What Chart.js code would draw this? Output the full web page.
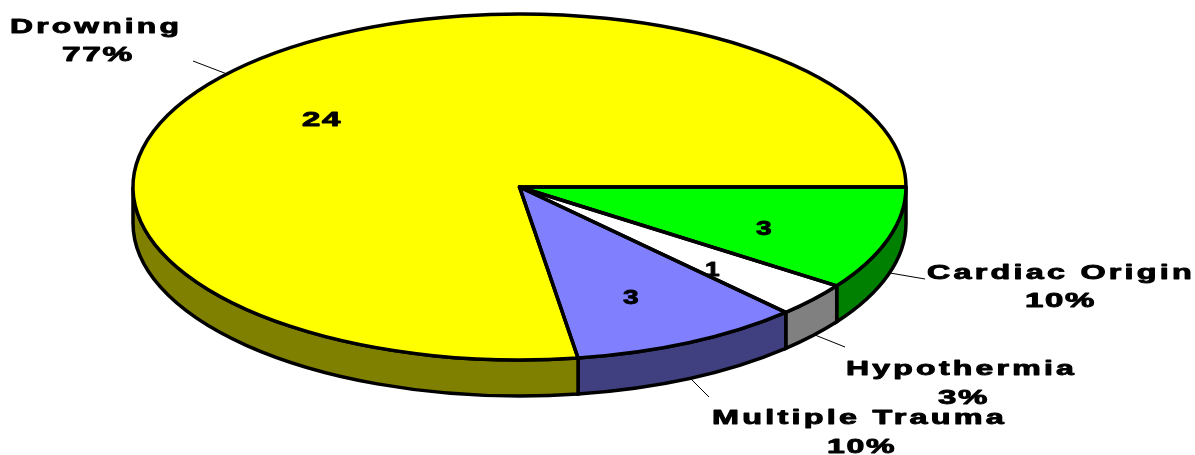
<!DOCTYPE html>
<html><head><meta charset="utf-8">
<style>html,body{margin:0;padding:0;background:#fff}canvas{display:block}</style>
<script src="https://cdn.jsdelivr.net/npm/chart.js@4"></script></head>
<body><div style="width:1195px;height:455px;position:relative"><canvas id="c"></canvas></div>
<script>
const categories = ["Cardiac Origin", "Hypothermia", "Multiple Trauma", "Drowning"];
const counts = [3, 1, 3, 24];
const percents = ["10%", "3%", "10%", "77%"];
const topColors = ["#00ff00", "#ffffff", "#8080ff", "#ffff00"];
const sideColors = ["#008000", "#808080", "#404080", "#808000"];

const CX = 519.5, CY = 187, RX = 386.5, RY = 173, DEPTH = 36;
const FONT = 'bold 20px "Liberation Sans"';
// layout only: [left, right, middle y] of each text
const nameBox = [[927, 1195, 273], [846, 1077, 369], [712, 1007, 418], [10, 182, 27]];
const pctBox = [[1025, 1096, 301], [938, 989, 398], [827, 896, 447], [62, 134, 55]];
const countBox = [[756, 773, 229], [705, 721, 270], [623, 640, 298], [302, 342, 120]];
const leaders = [[[890, 273], [925, 279]], [[815, 335], [845, 347]], [[690, 378], [709, 397]], [[193, 61], [227, 74]]];

function fitText(ctx, t, box) {
  ctx.letterSpacing = t.length > 3 ? '2px' : '1px';
  const w = ctx.measureText(t).width;
  ctx.save();
  ctx.translate((box[0] + box[1]) / 2, box[2]);
  ctx.scale((box[1] - box[0]) / w, 1);
  ctx.lineWidth = 0.9; ctx.strokeStyle = '#000';
  ctx.fillText(t, 0, 0); ctx.strokeText(t, 0, 0);
  ctx.restore();
}
const pie3d = {
  id: 'pie3d',
  beforeDatasetDraw(chart) {
    const ctx = chart.ctx, arcs = chart.getDatasetMeta(0).data;
    ctx.save();
    // side wall: only the front half of the rim is visible
    ctx.lineWidth = 3.5; ctx.strokeStyle = '#000';
    arcs.forEach((a, i) => {
      const s = Math.max(a.startAngle, 0), e = Math.min(a.endAngle, Math.PI);
      if (e <= s) return;
      ctx.beginPath();
      ctx.ellipse(CX, CY, RX, RY, 0, s, e);
      ctx.ellipse(CX, CY + DEPTH, RX, RY, 0, e, s, true);
      ctx.closePath();
      ctx.fillStyle = sideColors[i];
      ctx.fill(); ctx.stroke();
    });
    ctx.restore();
    // squash the library's own circular arcs into the tilted ellipse
    const a0 = arcs[0], r = a0.outerRadius;
    ctx.save();
    ctx.translate(CX, CY);
    ctx.scale(RX / r, RY / r);
    ctx.translate(-a0.x, -a0.y);
  },
  afterDatasetDraw(chart) {
    const ctx = chart.ctx, arcs = chart.getDatasetMeta(0).data;
    ctx.restore();
    ctx.save();
    ctx.lineWidth = 3.5; ctx.strokeStyle = '#000'; ctx.lineJoin = 'round';
    arcs.forEach(a => {
      ctx.beginPath();
      ctx.moveTo(CX, CY);
      ctx.ellipse(CX, CY, RX, RY, 0, a.startAngle, a.endAngle);
      ctx.closePath();
      ctx.stroke();
    });
    ctx.lineWidth = 1;
    leaders.forEach(l => {
      ctx.beginPath(); ctx.moveTo(l[0][0], l[0][1]); ctx.lineTo(l[1][0], l[1][1]); ctx.stroke();
    });
    ctx.fillStyle = '#000'; ctx.font = FONT;
    ctx.textAlign = 'center'; ctx.textBaseline = 'middle';
    categories.forEach((c, i) => {
      fitText(ctx, c, nameBox[i]);
      fitText(ctx, percents[i], pctBox[i]);
      fitText(ctx, String(counts[i]), countBox[i]);
    });
    ctx.restore();
  }
};
new Chart(document.getElementById('c'), {
  type: 'pie',
  data: { labels: categories, datasets: [{ data: counts, backgroundColor: topColors, borderWidth: 0 }] },
  options: {
    responsive: true, maintainAspectRatio: false, animation: false,
    rotation: 90,
    plugins: { legend: { display: false }, tooltip: { enabled: false } }
  },
  plugins: [pie3d]
});
</script></body></html>
